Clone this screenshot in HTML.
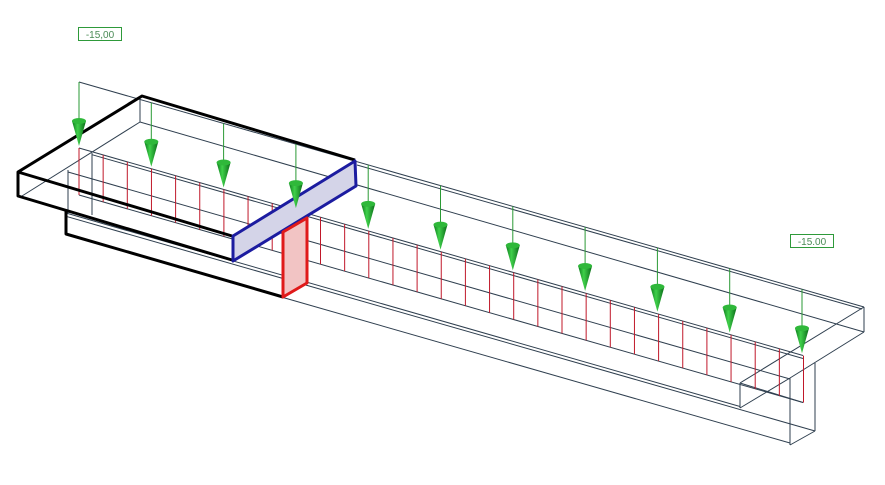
<!DOCTYPE html>
<html><head><meta charset="utf-8"><style>
html,body{margin:0;padding:0;background:#fff;width:885px;height:485px;overflow:hidden}
</style></head><body>
<svg id="s" width="885" height="485" viewBox="0 0 885 485" xmlns="http://www.w3.org/2000/svg">
<defs>
<linearGradient id="cg" x1="0" x2="1" y1="0" y2="0">
<stop offset="0" stop-color="#0c7a1c"/><stop offset="0.4" stop-color="#3fd04a"/><stop offset="1" stop-color="#0a6a18"/>
</linearGradient>
</defs>
<g id="thin" stroke="#2f3f4f" stroke-width="1" fill="none">
<line x1="79" y1="82" x2="864" y2="307"/>
<line x1="357" y1="165" x2="862" y2="309"/>
<line x1="140" y1="122" x2="864" y2="332"/>
<line x1="864" y1="307" x2="864" y2="332"/>
<line x1="864" y1="307" x2="740" y2="383"/>
<line x1="864" y1="332" x2="790" y2="378"/>
<line x1="740" y1="383" x2="740" y2="408"/>
<line x1="740" y1="408" x2="790" y2="378"/>
<line x1="790" y1="378" x2="790" y2="445"/>
<line x1="815" y1="363" x2="815" y2="431"/>
<line x1="790" y1="445" x2="815" y2="431"/>
<line x1="79" y1="148" x2="803" y2="355.5"/>
<line x1="92" y1="154.7" x2="803" y2="358.5"/>
<line x1="68" y1="172" x2="790" y2="379"/>
<line x1="79" y1="195" x2="803" y2="402.5"/>
<line x1="66" y1="213" x2="740" y2="406.5"/>
<line x1="66" y1="216.3" x2="815" y2="431"/>
<line x1="283" y1="297.5" x2="790" y2="443"/>
<line x1="803" y1="402.5" x2="740" y2="383"/>
<line x1="140" y1="98" x2="140" y2="122"/>
<line x1="140" y1="122" x2="22" y2="196"/>
<line x1="68" y1="170" x2="68" y2="213"/>
<line x1="92" y1="153" x2="92" y2="215"/>
</g>
<g id="red" stroke="#c0182a" stroke-width="1"></g>
<g id="bold" stroke="#000" stroke-width="3" fill="none" stroke-linejoin="round">
<polyline points="355,160 142,96 18,172 18,196 232,260"/>
<line x1="18" y1="172" x2="232" y2="236"/>
<polyline points="66,211 66,234 283,297"/>
</g>
<polygon points="233,236 355,161 356,186 233,261" fill="#d4d4e8" stroke="#1c1ca0" stroke-width="3" stroke-linejoin="round"/>
<polygon points="283,232 307,218 307,283 283,297" fill="#f2c4c4" stroke="#e01a1a" stroke-width="3" stroke-linejoin="round"/>
<g id="green"></g>
<rect x="78.5" y="27.5" width="43" height="13" fill="#fff" stroke="#2e9a3a" stroke-width="1"/>
<text x="100" y="38" font-family="Liberation Sans, sans-serif" font-size="10" fill="#4a8a55" text-anchor="middle">-15,00</text>
<rect x="790.5" y="234.5" width="43" height="13" fill="#fff" stroke="#2e9a3a" stroke-width="1"/>
<text x="812" y="245" font-family="Liberation Sans, sans-serif" font-size="10" fill="#4a8a55" text-anchor="middle">-15.00</text>
</svg>
<script>
(function(){
var NS="http://www.w3.org/2000/svg",s=0.2866;
var red=document.getElementById("red"),g=document.getElementById("green");
function el(p,t,a){var e=document.createElementNS(NS,t);for(var k in a)e.setAttribute(k,a[k]);p.appendChild(e);return e;}
for(var k=0;k<=30;k++){var x=79+24.15*k;el(red,"line",{x1:x,x2:x,y1:148+(x-79)*s,y2:195+(x-79)*s});}
for(var j=0;j<=10;j++){var x2=79+72.3*j;var yt=82+(x2-79)*s;var tip=148+(x2-79)*s-2;var ct=tip-27;
el(g,"line",{x1:x2,x2:x2,y1:yt,y2:ct+3,stroke:"#2a9a35","stroke-width":1});
el(g,"path",{d:"M"+(x2-7)+","+(ct+2)+" L"+x2+","+tip+" L"+(x2+7)+","+(ct+2)+" Z",fill:"url(#cg)"});
el(g,"ellipse",{cx:x2,cy:ct+2,rx:7,ry:3,fill:"#2fb83a"});}
})();
</script>
</body></html>
